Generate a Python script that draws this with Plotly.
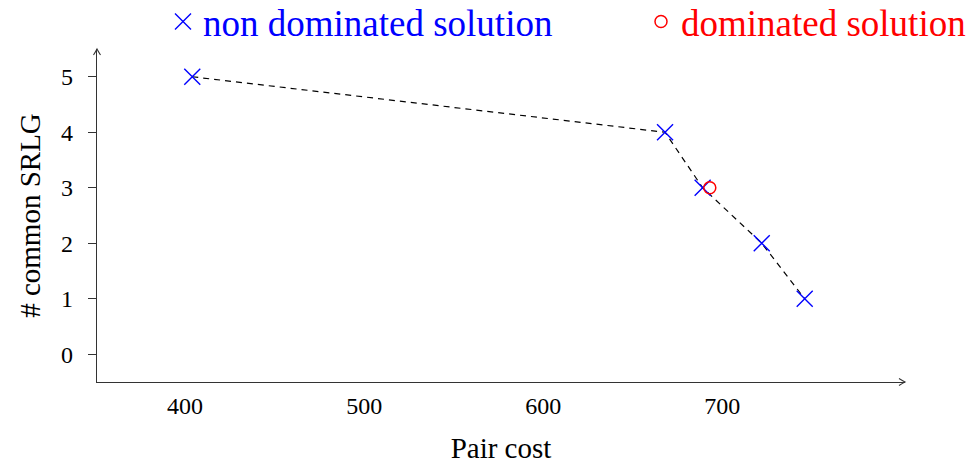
import plotly.graph_objects as go

# Data
nondom_cost = [404, 668, 689, 722, 746]
nondom_srlg = [5, 4, 3, 2, 1]
dom_cost = [693]
dom_srlg = [3]
x_ticks = [400, 500, 600, 700]
y_ticks = [0, 1, 2, 3, 4, 5]

FONT = "Liberation Serif"
AX = "#333333"

fig = go.Figure()
fig.add_trace(go.Scatter(x=nondom_cost, y=nondom_srlg, mode="lines",
                         line=dict(color="black", width=1.2, dash="6px,5px"),
                         showlegend=False, hoverinfo="skip"))
fig.add_trace(go.Scatter(x=nondom_cost, y=nondom_srlg, mode="markers",
                         name="<span style='color:#0000ff'>non dominated solution</span>",
                         marker=dict(symbol="x-thin-open", size=16, color="#0000ff",
                                     line=dict(color="#0000ff", width=1.4)),
                         legend="legend"))
fig.add_trace(go.Scatter(x=dom_cost, y=dom_srlg, mode="markers",
                         name="<span style='color:#ff0000'>dominated solution</span>",
                         marker=dict(symbol="circle-open", size=12, color="#ff0000",
                                     line=dict(color="#ff0000", width=1.5)),
                         legend="legend2"))

# page has an 8px body margin, so the figure is 8px smaller and offset
OFF = 8
W, H = 978 - OFF, 464 - OFF
L, R, T, B = 97 - OFF, 73, 49 - OFF, 82
pw = W - L - R
ph = H - T - B

def px_to_paper_x(p):
    return (p - OFF - L) / pw

def px_to_paper_y(p):
    return (H - B - (p - OFF)) / ph

fig.update_layout(
    width=W, height=H,
    margin=dict(l=L, r=R, t=T, b=B, autoexpand=False),
    paper_bgcolor="white", plot_bgcolor="white",
    font=dict(family=FONT, size=24, color="black"),
    xaxis=dict(range=[350.8, 802], tickvals=x_ticks, ticks="", showgrid=False,
               zeroline=False, showline=True, linecolor=AX, linewidth=1.2,
               tickfont=dict(size=24), ticklabelstandoff=2, automargin=False,
               title=dict(text="Pair cost", font=dict(size=29), standoff=28)),
    yaxis=dict(range=[-0.5, 5.5], tickvals=y_ticks, ticks="outside", ticklen=8,
               tickcolor=AX, tickwidth=1.2, showgrid=False, zeroline=False,
               showline=True, linecolor=AX, linewidth=1.2, automargin=False,
               tickfont=dict(size=24), ticklabelstandoff=10,
               title=dict(text="# common SRLG", font=dict(size=29), standoff=11)),
    legend=dict(x=px_to_paper_x(163), y=px_to_paper_y(22), xanchor="left",
                yanchor="middle", font=dict(size=37, family=FONT),
                bgcolor="rgba(0,0,0,0)", borderwidth=0),
    legend2=dict(x=px_to_paper_x(641), y=px_to_paper_y(22), xanchor="left",
                 yanchor="middle", font=dict(size=37, family=FONT),
                 bgcolor="rgba(0,0,0,0)", borderwidth=0),
    shapes=[
        dict(type="path", xref="paper", yref="paper", xsizemode="pixel",
             ysizemode="pixel", xanchor=1, yanchor=0,
             path="M -6,3.5 Q -2,1 0,0 Q -2,-1 -6,-3.5",
             line=dict(color=AX, width=1.1)),
        dict(type="path", xref="paper", yref="paper", xsizemode="pixel",
             ysizemode="pixel", xanchor=0, yanchor=1,
             path="M -3.5,-6 Q -1,-2 0,0 Q 1,-2 3.5,-6",
             line=dict(color=AX, width=1.1)),
    ],
)

fig.write_html("out.html")
